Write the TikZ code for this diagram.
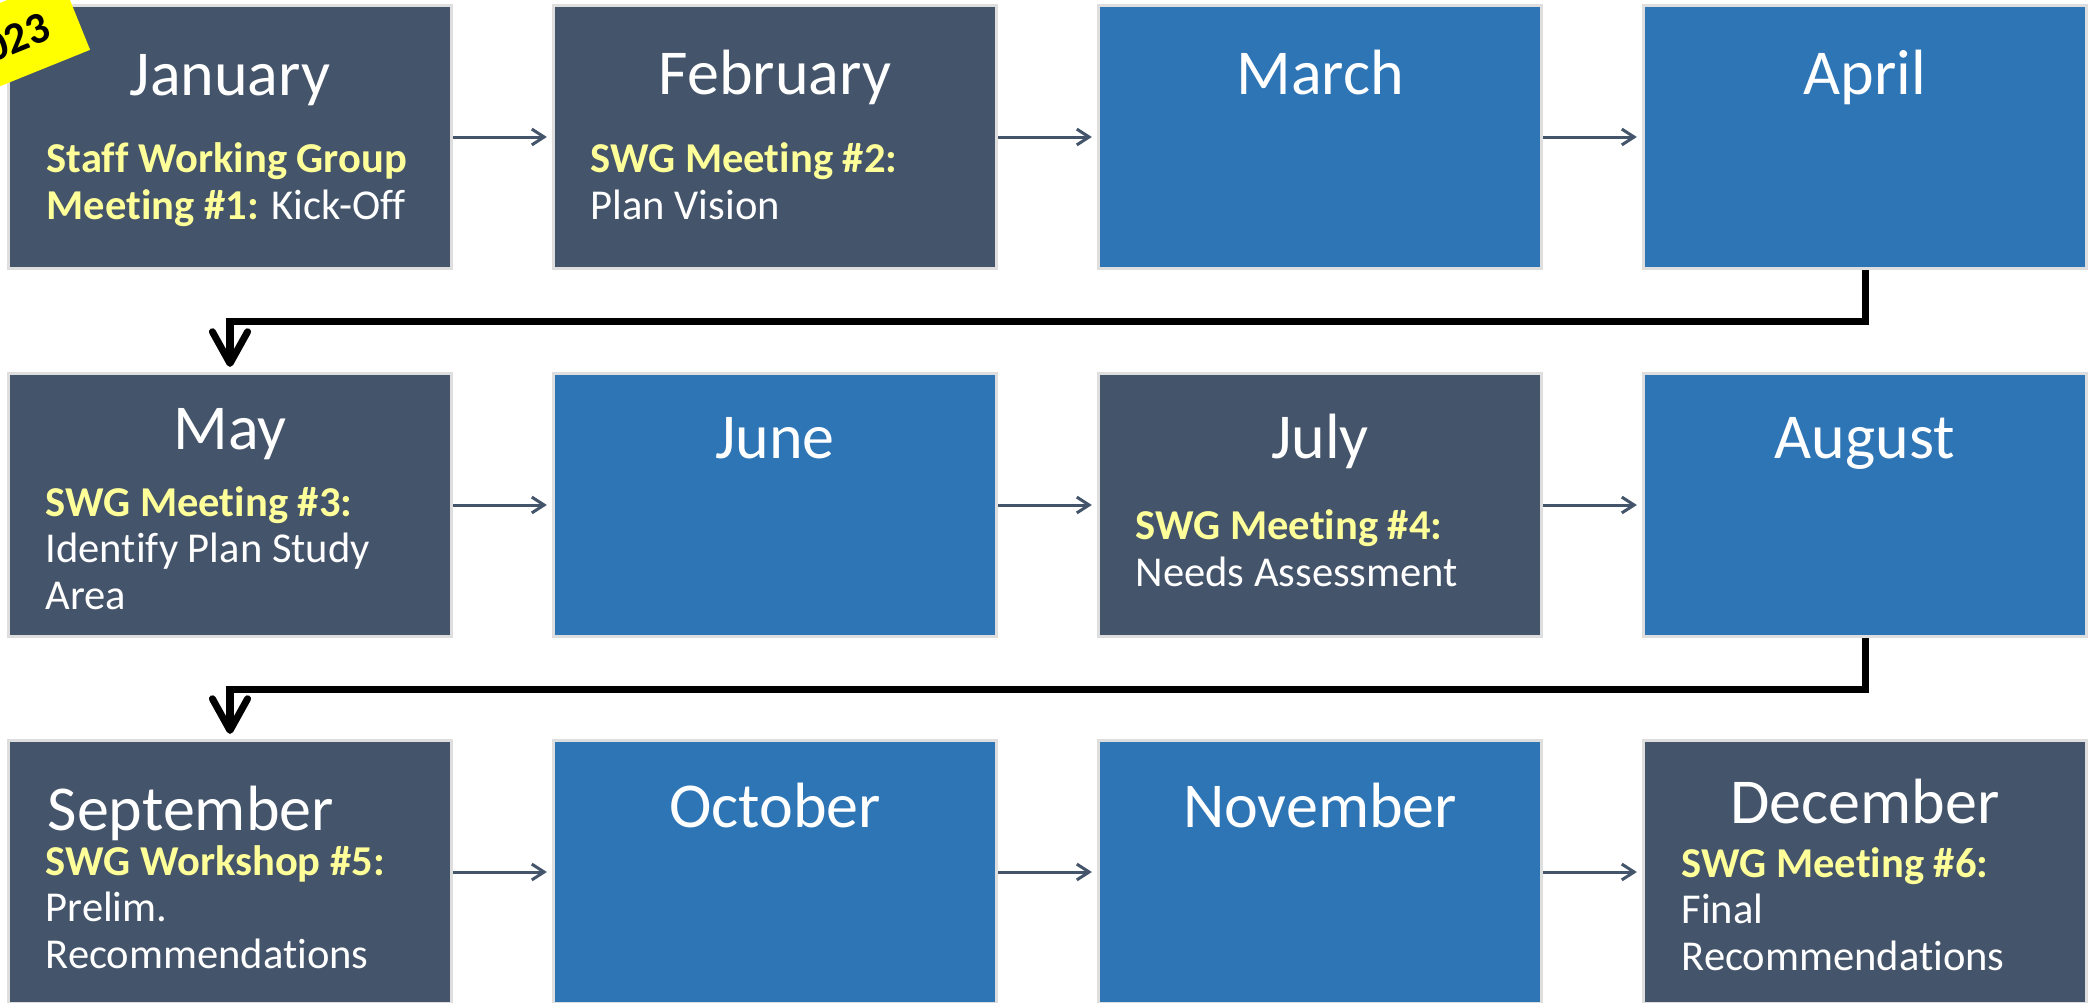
\documentclass[tikz,border=0pt]{standalone}
\usepackage{fontspec}
\setmainfont{Carlito}[Ligatures=NoCommon]
\usetikzlibrary{arrows.meta,calc}
\definecolor{mydark}{RGB}{68,84,106}
\definecolor{myblue}{RGB}{46,117,182}
\definecolor{myyellow}{RGB}{255,255,153}
\definecolor{myborder}{RGB}{222,222,222}
\definecolor{myflag}{RGB}{255,255,0}
\newcommand\monthfont{\fontsize{18.2pt}{22pt}\selectfont}
\newcommand\notefont{\fontsize{12.1pt}{13.1pt}\selectfont}
\newcommand\hl[1]{\textcolor{myyellow}{\textbf{#1}}}
\tikzset{
  month/.style={draw=myborder, line width=0.03cm, minimum width=4.43cm, minimum height=2.63cm, inner sep=0pt},
  darkbox/.style={month, fill=mydark},
  bluebox/.style={month, fill=myblue},
  mname/.style={text=white, font=\monthfont, anchor=base, inner sep=0pt},
  note/.style={text=white, font=\notefont, align=left, anchor=base west, inner sep=0pt},
  flow/.style={draw=mydark, line width=0.03cm, -{Straight Barb[length=3.5pt,width=4.5pt]}, shorten >=0.05cm},
  turn/.style={draw=black, line width=0.07cm, -{Straight Barb[length=9pt,width=10pt,round]}, shorten >=0.05cm},
  yearflag/.style={fill=myflag, font=\bfseries\fontsize{12.5pt}{15pt}\selectfont, inner xsep=0.3cm, inner ysep=0.24cm}
}

\begin{document}
\begin{tikzpicture}[x=0.01cm, y=-0.01cm]
\useasboundingbox (0,0) rectangle (2093,1003);
\clip (0,0) rectangle (2093,1003);

% first row
\node[darkbox] (jan) at (230,137) {};
\node[darkbox] (feb) at (775,137) {};
\node[bluebox] (mar) at (1320,137) {};
\node[bluebox] (apr) at (1865,137) {};

% second row
\node[darkbox] (may) at (230,505) {};
\node[bluebox] (jun) at (775,505) {};
\node[darkbox] (jul) at (1320,505) {};
\node[bluebox] (aug) at (1865,505) {};

% third row
\node[darkbox] (sep) at (230,872) {};
\node[bluebox] (oct) at (775,872) {};
\node[bluebox] (nov) at (1320,872) {};
\node[darkbox] (dec) at (1865,872) {};

% month names
\node[mname] (jantitle) at ($(jan.center)+(0,-42)$) {January};
\node[mname] (febtitle) at ($(feb.center)+(0,-43)$) {February};
\node[mname] (martitle) at ($(mar.center)+(0,-43)$) {March};
\node[mname] (aprtitle) at ($(apr.center)+(0,-43)$) {April};
\node[mname] (maytitle) at ($(may.center)+(0,-56)$) {May};
\node[mname] (juntitle) at ($(jun.center)+(0,-47)$) {June};
\node[mname] (jultitle) at ($(jul.center)+(0,-47)$) {July};
\node[mname] (augtitle) at ($(aug.center)+(0,-47)$) {August};
\node[mname, anchor=base west] (septitle) at ($(sep.center)+(-183,-42)$) {September};
\node[mname] (octtitle) at ($(oct.center)+(0,-45)$) {October};
\node[mname] (novtitle) at ($(nov.center)+(0,-45)$) {November};
\node[mname] (dectitle) at ($(dec.center)+(0,-49)$) {December};

% meetings (anchored at the last line)
\node[note] (jannote) at ($(jan.center)+(-184,82)$) {\hl{Staff Working Group}\\\hl{Meeting \#1:} Kick-Off};
\node[note] (febnote) at ($(feb.center)+(-185,82)$) {\hl{SWG Meeting \#2:}\\Plan Vision};
\node[note] (maynote) at ($(may.center)+(-185,104)$) {\hl{SWG Meeting \#3:}\\Identify Plan Study\\Area};
\node[note] (julnote) at ($(jul.center)+(-185,81)$) {\hl{SWG Meeting \#4:}\\Needs Assessment};
\node[note] (sepnote) at ($(sep.center)+(-185,96)$) {\hl{SWG Workshop \#5:}\\Prelim.\\Recommendations};
\node[note] (decnote) at ($(dec.center)+(-184,98)$) {\hl{SWG Meeting \#6:}\\Final\\Recommendations};

% arrows
\draw[flow] (jan) -- (feb);
\draw[flow] (feb) -- (mar);
\draw[flow] (mar) -- (apr);
\draw[flow] (may) -- (jun);
\draw[flow] (jun) -- (jul);
\draw[flow] (jul) -- (aug);
\draw[flow] (sep) -- (oct);
\draw[flow] (oct) -- (nov);
\draw[flow] (nov) -- (dec);
\draw[turn] (apr.south) -- ++(0,51) -| (may.north);
\draw[turn] (aug.south) -- ++(0,51) -| (sep.north);

\node[yearflag, rotate=22] (year) at (6.5,42) {2023};

\end{tikzpicture}
\end{document}
